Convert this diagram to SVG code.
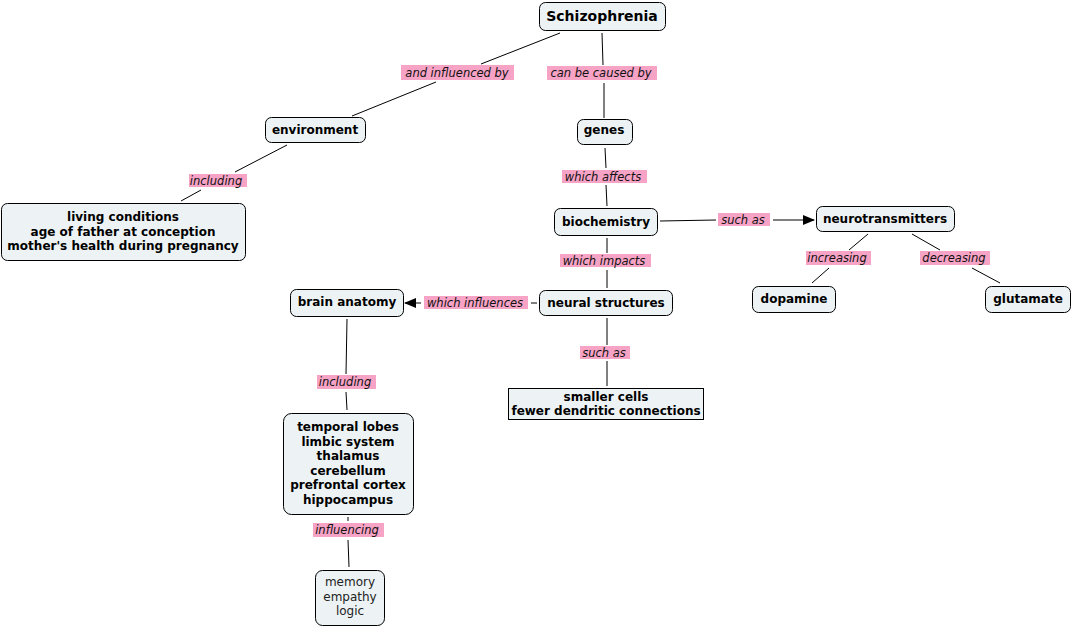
<svg xmlns="http://www.w3.org/2000/svg" width="1073" height="627" viewBox="0 0 1073 627">
<style>
.n rect{fill:#EDF3F5;stroke:#000;stroke-width:1}
.n text{font-family:"DejaVu Sans",Verdana,sans-serif;font-size:12px;font-weight:bold;fill:#000;text-anchor:middle}
.n text.r{font-weight:normal;fill:#222}
.c line{stroke:#000;stroke-width:1}
.l rect{fill:#F7A3C6}
.l text{font-family:"DejaVu Sans",Verdana,sans-serif;font-size:11.5px;font-style:italic;fill:#111;text-anchor:middle}
</style>
<defs>
<marker id="ah" markerWidth="12" markerHeight="10" refX="11" refY="5" orient="auto" markerUnits="userSpaceOnUse">
<path d="M0,0 L12,5 L0,10 Z" fill="#000"/>
</marker>
</defs>
<rect width="1073" height="627" fill="#fff"/>
<g class="c">
<line x1="560" y1="33" x2="481" y2="64"/>
<line x1="436" y1="82" x2="352" y2="116"/>
<line x1="602" y1="33" x2="603" y2="65"/>
<line x1="604" y1="83" x2="604" y2="118"/>
<line x1="287" y1="145" x2="235" y2="172"/>
<line x1="201" y1="190" x2="181" y2="201"/>
<line x1="605" y1="148" x2="606" y2="168"/>
<line x1="606" y1="185" x2="607" y2="206"/>
<line x1="660" y1="221" x2="716" y2="220"/>
<line x1="773" y1="220" x2="814" y2="220" marker-end="url(#ah)"/>
<line x1="607" y1="238" x2="607" y2="253"/>
<line x1="607" y1="270" x2="607" y2="288"/>
<line x1="868" y1="234" x2="849" y2="250"/>
<line x1="829" y1="268" x2="812" y2="283"/>
<line x1="912" y1="234" x2="940" y2="250"/>
<line x1="972" y1="268" x2="1000" y2="283"/>
<line x1="537" y1="303" x2="531" y2="303"/>
<line x1="421" y1="303" x2="405" y2="303" marker-end="url(#ah)"/>
<line x1="607" y1="318" x2="607" y2="345"/>
<line x1="607" y1="361" x2="607" y2="386"/>
<line x1="347" y1="319" x2="346" y2="374"/>
<line x1="346" y1="392" x2="347" y2="410"/>
<line x1="348" y1="517" x2="348" y2="521"/>
<line x1="348" y1="540" x2="349" y2="567"/>
</g>
<g class="l">
<g id="l1"><rect x="401" y="65" width="113" height="15"/><text x="457" y="77">and influenced by</text></g>
<g id="l2"><rect x="547" y="66" width="110" height="14"/><text x="601" y="77">can be caused by</text></g>
<g id="l3"><rect x="189" y="174" width="58" height="13"/><text x="216" y="185">including</text></g>
<g id="l4"><rect x="562" y="170" width="85" height="13"/><text x="603" y="181">which affects</text></g>
<g id="l5"><rect x="718" y="213" width="52" height="13"/><text x="743" y="224">such as</text></g>
<g id="l6"><rect x="560" y="254" width="91" height="13"/><text x="604" y="265">which impacts</text></g>
<g id="l7"><rect x="806" y="251" width="65" height="14"/><text x="837" y="262">increasing</text></g>
<g id="l8"><rect x="920" y="251" width="70" height="14"/><text x="954" y="262">decreasing</text></g>
<g id="l9"><rect x="424" y="296" width="104" height="13"/><text x="475" y="307">which influences</text></g>
<g id="l10"><rect x="580" y="346" width="50" height="13"/><text x="604" y="357">such as</text></g>
<g id="l11"><rect x="317" y="375" width="59" height="14"/><text x="345" y="386">including</text></g>
<g id="l12"><rect x="313" y="523" width="71" height="14"/><text x="347" y="534">influencing</text></g>
</g>
<g class="n">
<g id="schizophrenia"><rect x="539.5" y="2.5" width="126" height="28" rx="6"/><text x="602" y="21" style="font-size:14px">Schizophrenia</text></g>
<g id="environment"><rect x="265.5" y="117.5" width="100" height="25" rx="6"/><text x="315" y="134">environment</text></g>
<g id="genes"><rect x="577.5" y="119.5" width="55" height="25" rx="6"/><text x="604" y="134">genes</text></g>
<g id="living"><rect x="1.5" y="203.5" width="244" height="57" rx="6"/><text x="123" y="221">living conditions</text><text x="123" y="236">age of father at conception</text><text x="123" y="250">mother's health during pregnancy</text></g>
<g id="biochemistry"><rect x="554.5" y="208.5" width="103" height="27" rx="6"/><text x="606" y="226">biochemistry</text></g>
<g id="neurotransmitters"><rect x="816.5" y="206.5" width="138" height="25" rx="6"/><text x="885" y="223">neurotransmitters</text></g>
<g id="dopamine"><rect x="752.5" y="286.5" width="83" height="26" rx="6"/><text x="794" y="303">dopamine</text></g>
<g id="glutamate"><rect x="985.5" y="286.5" width="85" height="26" rx="6"/><text x="1028" y="303">glutamate</text></g>
<g id="brain"><rect x="290.5" y="289.5" width="113" height="27" rx="6"/><text x="347" y="306">brain anatomy</text></g>
<g id="neural"><rect x="539.5" y="290.5" width="133" height="25" rx="6"/><text x="606" y="307">neural structures</text></g>
<g id="smaller"><rect x="508.5" y="388.5" width="195" height="31"/><text x="606" y="401">smaller cells</text><text x="606" y="415">fewer dendritic connections</text></g>
<g id="temporal"><rect x="283.5" y="413.5" width="130" height="101" rx="8"/><text x="348" y="431">temporal lobes</text><text x="348" y="446">limbic system</text><text x="348" y="460">thalamus</text><text x="348" y="475">cerebellum</text><text x="348" y="489">prefrontal cortex</text><text x="348" y="504">hippocampus</text></g>
<g id="memory"><rect x="315.5" y="570.5" width="69" height="55" rx="7"/><text class="r" x="350" y="586">memory</text><text class="r" x="350" y="601">empathy</text><text class="r" x="350" y="615">logic</text></g>
</g>
</svg>
